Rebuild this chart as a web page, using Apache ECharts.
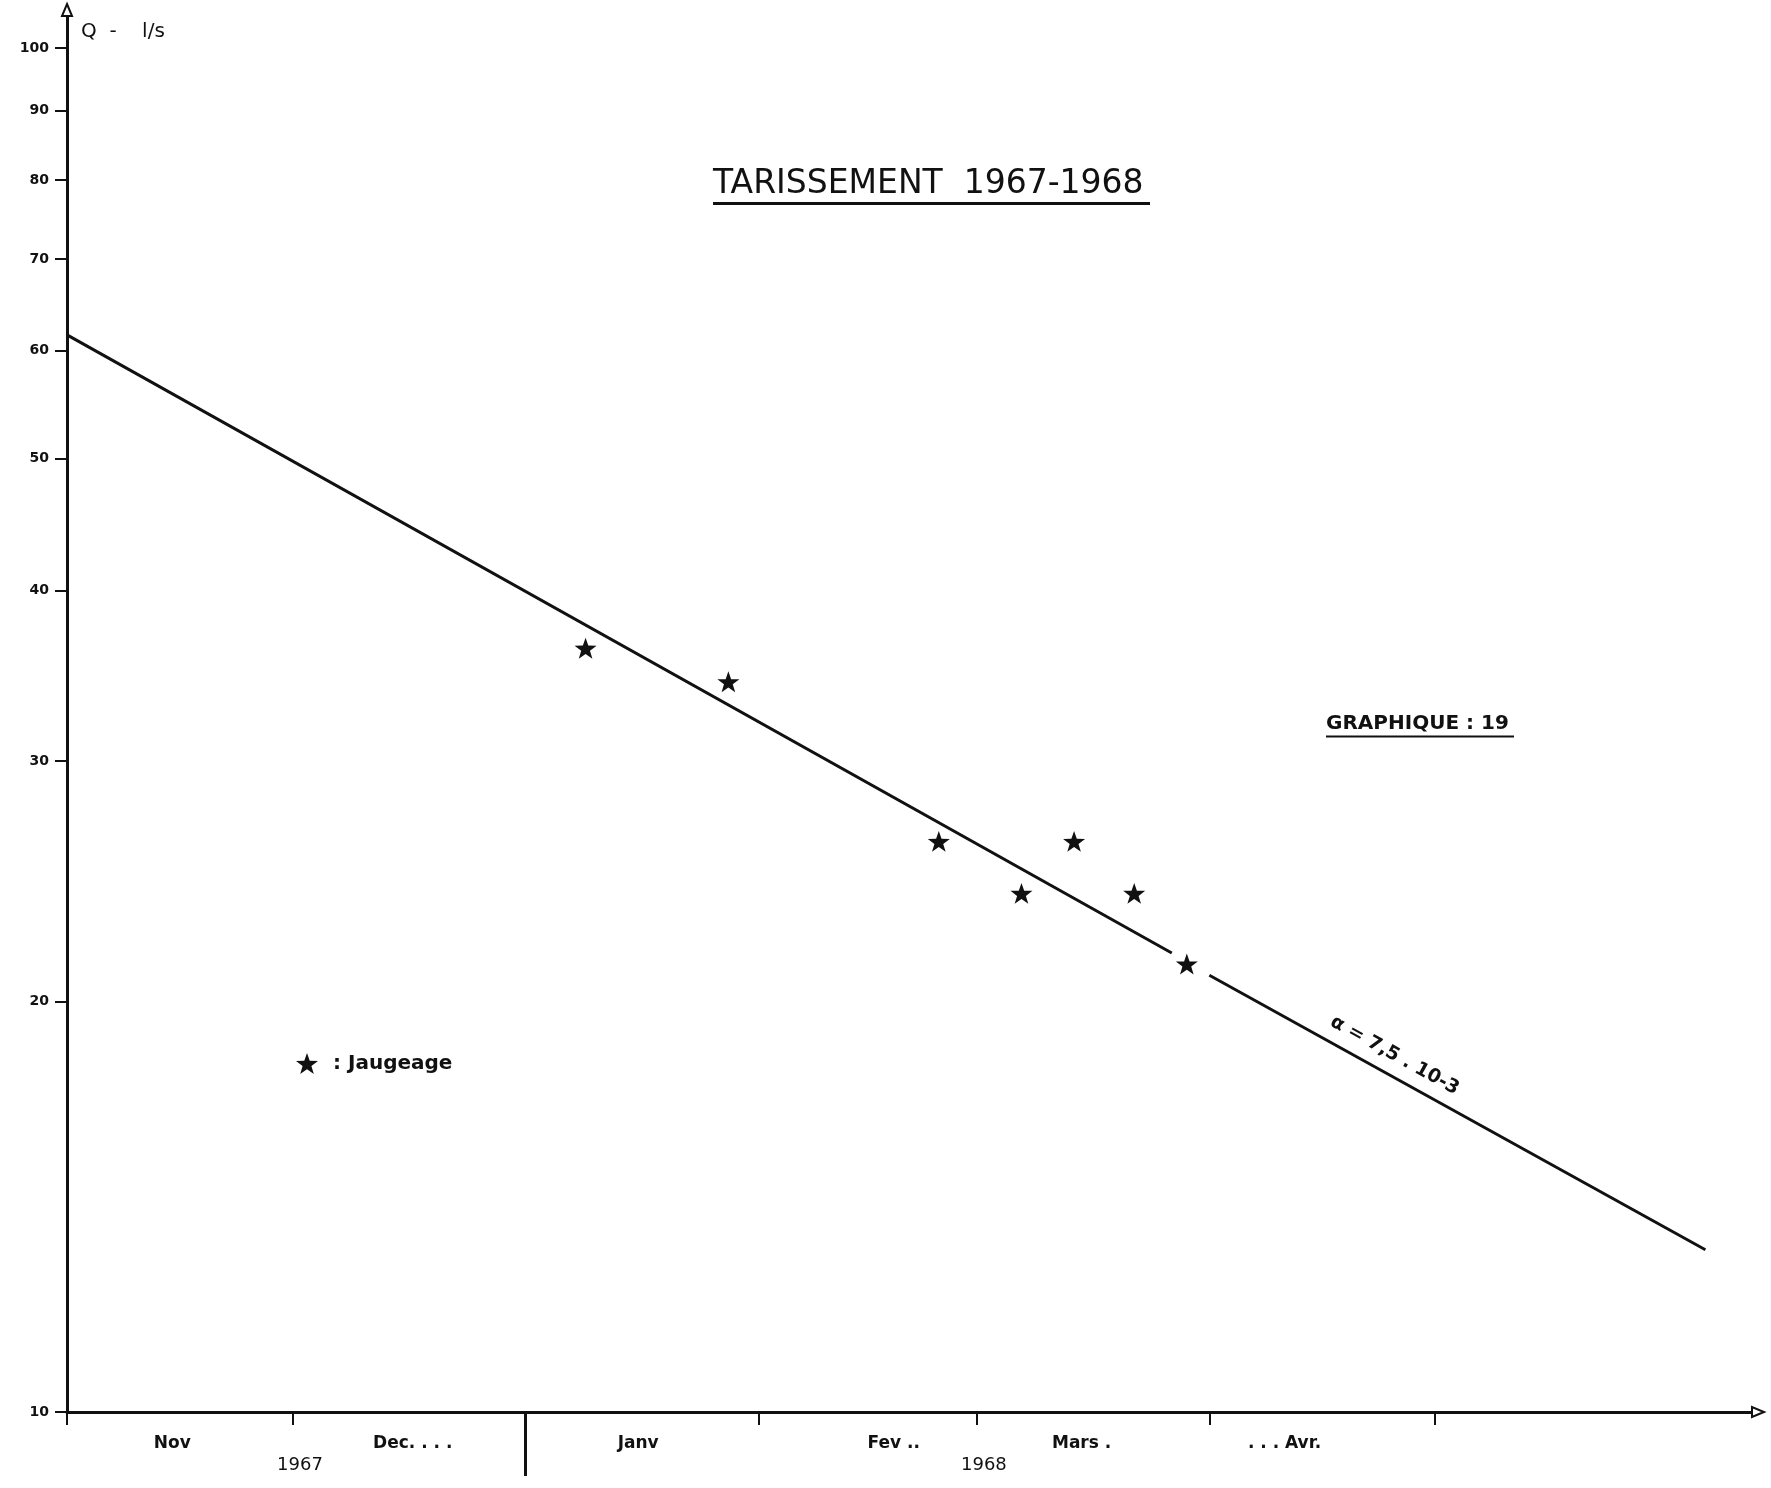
<!DOCTYPE html>
<html>
<head>
<meta charset="UTF-8">
<title>Tarissement 1967-1968</title>
<script src="https://cdn.jsdelivr.net/npm/echarts@6/dist/echarts.min.js"></script>
<style>
  html, body{ margin:0; padding:0; background:#fff; }
  #chart{ width:1771px; height:1488px; }
</style>
</head>
<body>
<div id="chart"></div>
<script>
// droite de tarissement, coupee autour du dernier jaugeage
var droiteDatesA = ['1967-11-01', '1968-03-27'];
var droiteQA = [61.6, 21.7];
var droiteDatesB = ['1968-04-01', '1968-06-06'];
var droiteQB = [20.9, 13.15];

// jaugeages (l/s)
var jaugeDates = ['1968-01-09', '1968-01-28', '1968-02-25', '1968-03-07', '1968-03-14', '1968-03-22', '1968-03-29'];
var jaugeQ = [36.3, 34.3, 26.2, 24.0, 26.2, 24.0, 21.3];

// axe Q (log)
var qTicks = [10, 20, 30, 40, 50, 60, 70, 80, 90, 100];

// axe des temps
var debut = '1967-11-01', fin = '1968-06-13';
var moisTicks = ['1967-11-01', '1967-12-01', '1968-01-01', '1968-02-01', '1968-03-01', '1968-04-01', '1968-05-01'];
var moisLabelDates = ['1967-11-15', '1967-12-17', '1968-01-16', '1968-02-19', '1968-03-15', '1968-04-11'];
var moisNoms = ['Nov', 'Dec. . . .', 'Janv', 'Fev ..', 'Mars .', '. . . Avr.'];
var anneeLabelDates = ['1967-12-02', '1968-03-02'];
var anneeNoms = ['1967', '1968'];
var anneeCoupure = ['1968-01-01'];

var etoile = 'path://M10,0L12.35,6.76L19.51,6.91L13.8,11.24L15.88,18.09L10,14L4.12,18.09L6.2,11.24L0.49,6.91L7.65,6.76Z';

// les dates passent en millisecondes sur un axe 'value'
function toTime(s){
	return Date.UTC(+s.substr(0,4), +s.substr(5,2)-1, +s.substr(8,2));
}
function nomProche(dates, noms, value){
	var best = 0, bd = Infinity;
	for(var i=0;i<dates.length;i++){
		var d = Math.abs(toTime(dates[i]) - value);
		if(d < bd){ bd = d; best = i; }
	}
	return noms[best];
}
function paires(dates, vals){
	var out = [];
	for(var i=0;i<dates.length;i++){
		out.push([toTime(dates[i]), vals[i]]);
	}
	return out;
}

var chart = echarts.init(document.getElementById('chart'));
var option = {
	animation: false,
	backgroundColor: '#fff',
	textStyle: { fontFamily: 'DejaVu Sans', color: '#111' },
	title: [{
		text: '{t|TARISSEMENT  1967-1968}\n{u|}',
		left: 713,
		top: 168,
		padding: 0,
		textStyle: {
			rich: {
				t: { fontSize: 33, fontWeight: 'normal', fontFamily: 'DejaVu Sans', color: '#111', lineHeight: 33 },
				u: { width: 437, height: 3, backgroundColor: '#111', lineHeight: 5 }
			}
		}
	}, {
		text: '{t|GRAPHIQUE : 19}\n{u|}',
		left: 1326,
		top: 713,
		padding: 0,
		textStyle: {
			rich: {
				t: { fontSize: 20, fontWeight: 'bold', fontFamily: 'DejaVu Sans', color: '#111', lineHeight: 22 },
				u: { width: 188, height: 2, backgroundColor: '#111', lineHeight: 3 }
			}
		}
	}],
	legend: {
		data: ['Jaugeage'],
		left: 296,
		top: 1053,
		padding: 0,
		icon: etoile,
		itemWidth: 22,
		itemHeight: 22,
		formatter: ': {name}',
		textStyle: {
			fontSize: 20, fontWeight: 'bold', color: '#111', fontFamily: 'DejaVu Sans',
			padding: [0, 0, 0, 10]
		}
	},
	grid: {
		left: 67,
		right: 13,
		top: 10,
		bottom: 76,
		outerBoundsMode: 'none'
	},
	xAxis: [{
		type: 'value',
		position: 'bottom',
		min: toTime(debut),
		max: toTime(fin),
		axisLine: {
			show: true,
			symbol: ['none', 'emptyTriangle'],
			symbolSize: [10, 12],
			lineStyle: { color: '#111', width: 3 }
		},
		axisTick: {
			show: true,
			customValues: moisTicks.map(toTime),
			length: 13,
			lineStyle: { color: '#111', width: 2 }
		},
		axisLabel: {
			customValues: moisLabelDates.map(toTime),
			margin: 23,
			fontSize: 17,
			fontWeight: 'bold',
			color: '#111',
			fontFamily: 'DejaVu Sans',
			formatter: function(value){
				return nomProche(moisLabelDates, moisNoms, value);
			}
		},
		splitLine: { show: false }
	}, {
		type: 'value',
		position: 'bottom',
		min: toTime(debut),
		max: toTime(fin),
		axisLine: { show: false },
		axisTick: {
			show: true,
			customValues: anneeCoupure.map(toTime),
			length: 64,
			lineStyle: { color: '#111', width: 3 }
		},
		axisLabel: {
			customValues: anneeLabelDates.map(toTime),
			margin: 44,
			fontSize: 18,
			color: '#111',
			fontFamily: 'DejaVu Sans',
			formatter: function(value){
				return nomProche(anneeLabelDates, anneeNoms, value);
			}
		},
		splitLine: { show: false }
	}],
	yAxis: {
		type: 'log',
		logBase: 10,
		min: 10,
		max: 106.6,
		name: 'Q  -    l/s',
		nameLocation: 'end',
		nameGap: -22,
		nameTextStyle: {
			align: 'left',
			verticalAlign: 'middle',
			padding: [0, 0, 0, 14],
			fontSize: 20,
			color: '#111',
			fontFamily: 'DejaVu Sans'
		},
		axisLine: {
			show: true,
			symbol: ['none', 'emptyTriangle'],
			symbolSize: [10, 12],
			lineStyle: { color: '#111', width: 3 }
		},
		axisTick: {
			show: true,
			customValues: qTicks,
			length: 12,
			lineStyle: { color: '#111', width: 2 }
		},
		axisLabel: {
			customValues: qTicks,
			margin: 18,
			fontSize: 14,
			fontWeight: 'bold',
			color: '#111',
			fontFamily: 'DejaVu Sans'
		},
		splitLine: { show: false }
	},
	series: [{
		name: 'Droite',
		type: 'line',
		xAxisIndex: 0,
		data: paires(droiteDatesA, droiteQA),
		showSymbol: false,
		lineStyle: { color: '#111', width: 3 },
		silent: true
	}, {
		name: 'Droite',
		type: 'line',
		xAxisIndex: 0,
		data: paires(droiteDatesB, droiteQB),
		showSymbol: false,
		lineStyle: { color: '#111', width: 3 },
		silent: true,
		markLine: {
			silent: true,
			symbol: ['none', 'none'],
			lineStyle: { color: 'rgba(0,0,0,0)', width: 1, opacity: 1 },
			label: {
				show: true,
				position: 'insideMiddleTop',
				distance: 10,
				padding: [0, 165, 0, 0],
				formatter: '\u03b1 = 7,5 . 10-3',
				fontSize: 19,
				fontWeight: 'bold',
				color: '#111',
				opacity: 1,
				fontFamily: 'DejaVu Sans'
			},
			data: [[
				{ coord: [toTime(droiteDatesB[0]), droiteQB[0]] },
				{ coord: [toTime(droiteDatesB[1]), droiteQB[1]] }
			]]
		}
	}, {
		name: 'Jaugeage',
		type: 'scatter',
		xAxisIndex: 0,
		data: paires(jaugeDates, jaugeQ),
		symbol: etoile,
		symbolSize: 22,
		symbolKeepAspect: true,
		itemStyle: { color: '#111', opacity: 1 }
	}]
};
chart.setOption(option);
</script>
</body>
</html>
